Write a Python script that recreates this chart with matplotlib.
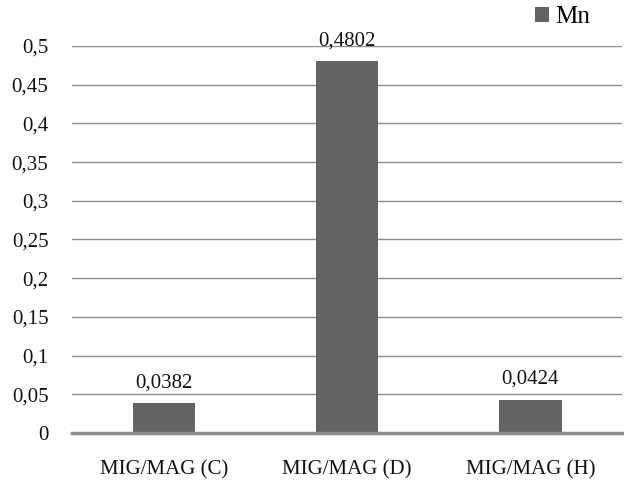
import matplotlib
matplotlib.use("Agg")
import matplotlib.pyplot as plt
from matplotlib.ticker import FixedLocator, FuncFormatter

categories = ["MIG/MAG (C)", "MIG/MAG (D)", "MIG/MAG (H)"]
mn_values = [0.0382, 0.4802, 0.0424]
value_labels = ["0,0382", "0,4802", "0,0424"]
yticks = [0, 0.05, 0.1, 0.15, 0.2, 0.25, 0.3, 0.35, 0.4, 0.45, 0.5]

plt.rcParams['font.family'] = ['Liberation Serif', 'DejaVu Serif']

fig = plt.figure(figsize=(6.24, 4.87), dpi=100)
ax = fig.add_axes([0.1154, 0.111, 0.8814, 0.7945])

x = list(range(len(categories)))
bars = ax.bar(x, mn_values, width=0.34, color="#636363", zorder=3, label="Mn")
for xi, v, lab in zip(x, mn_values, value_labels):
    ax.annotate(lab, (xi, v), xytext=(0, 8), textcoords="offset points",
                ha="center", va="bottom", fontsize=15, color="#111111")

ax.set_xlim(-0.5, 2.5)
ax.set_ylim(0, 0.5)
ax.yaxis.set_major_locator(FixedLocator(yticks))
ax.yaxis.set_major_formatter(FuncFormatter(lambda v, p: ("%g" % v).replace(".", ",")))
ax.set_xticks(x)
ax.set_xticklabels(categories)
ax.tick_params(axis="both", length=0, labelsize=15, colors="#111111")
ax.tick_params(axis="y", pad=17)
ax.tick_params(axis="x", pad=20)
ax.grid(axis="y", color="#8c8c8c", linewidth=1.0, zorder=0)
for s in ["top", "right", "left"]:
    ax.spines[s].set_visible(False)
ax.spines["bottom"].set_color("#8c8c8c")
ax.spines["bottom"].set_linewidth(2.5)
ax.spines["bottom"].set_zorder(4)

leg = fig.legend(handles=[bars], labels=["Mn"], loc="upper right", bbox_to_anchor=(0.982, 1.034),
                 frameon=False, fontsize=18, handlelength=0.55, handleheight=0.55, handletextpad=0.25)

fig.savefig("out.png", dpi=100)
